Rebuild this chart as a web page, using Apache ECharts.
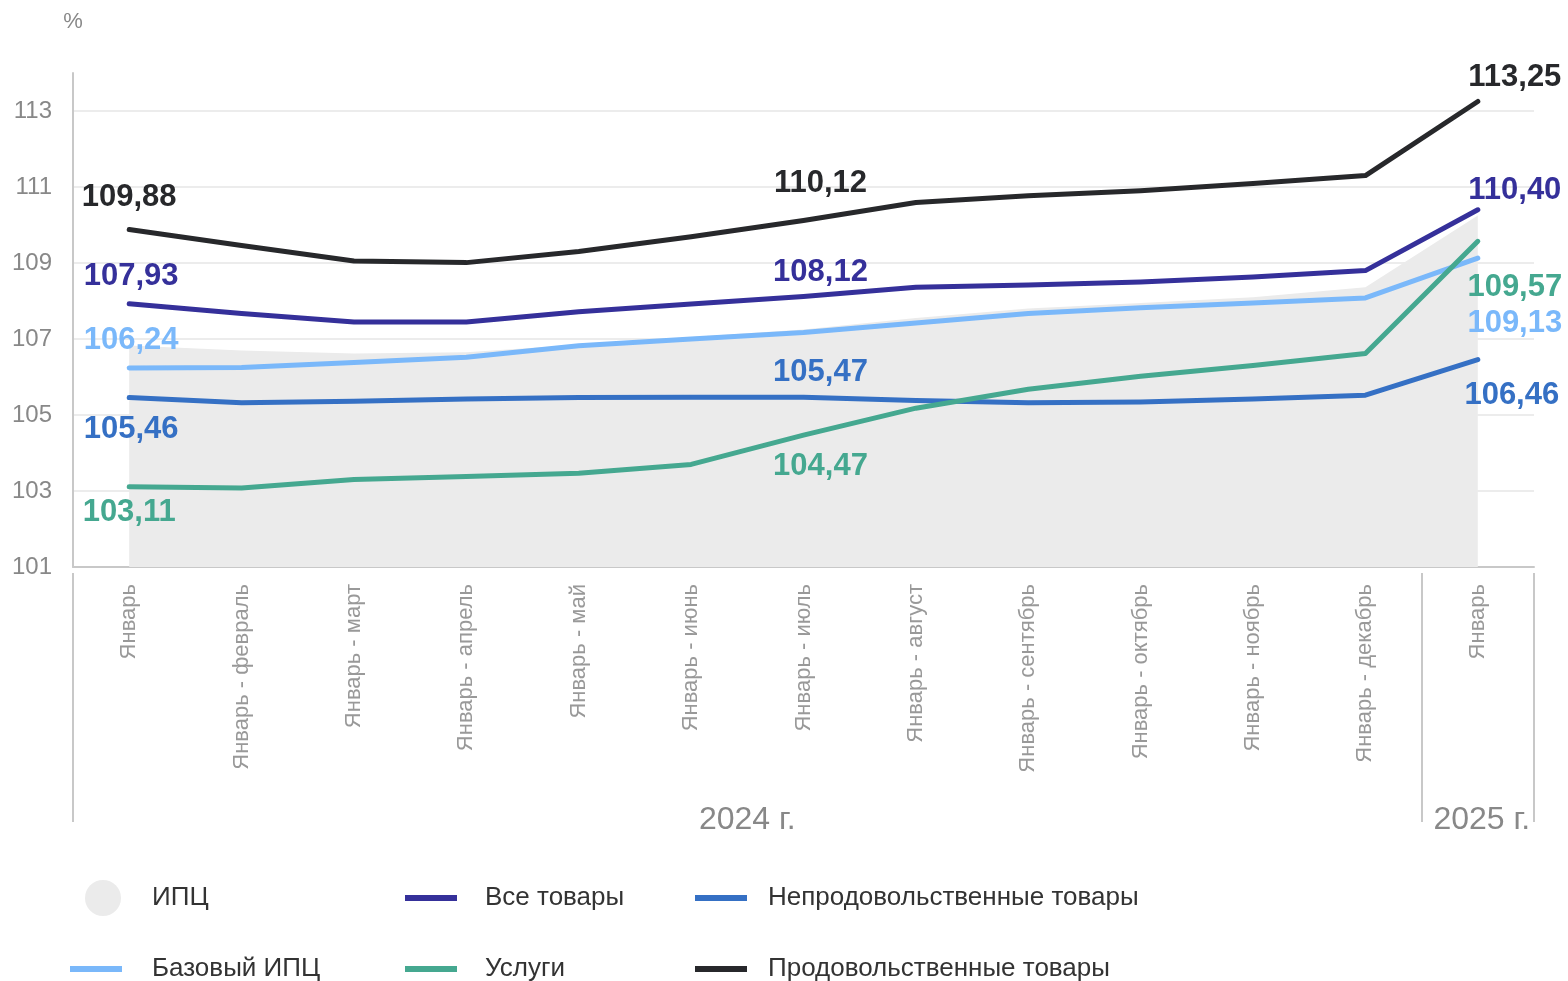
<!DOCTYPE html>
<html>
<head>
<meta charset="utf-8">
<script src="https://cdn.jsdelivr.net/npm/echarts@6/dist/echarts.min.js"></script>
<style>
  html, body { margin: 0; padding: 0; background: #fff; }
  #main { width: 1568px; height: 981px; }
</style>
</head>
<body>
<div id="main"></div>
<script>
var dom = document.getElementById('main');
var myChart = echarts.init(dom);

var categories = ['Январь', 'Январь - февраль', 'Январь - март', 'Январь - апрель', 'Январь - май',
    'Январь - июнь', 'Январь - июль', 'Январь - август', 'Январь - сентябрь', 'Январь - октябрь',
    'Январь - ноябрь', 'Январь - декабрь', 'Январь'];
var years = ['2024 г.', '2025 г.'];

var cpi      = [106.83, 106.70, 106.62, 106.65, 106.85, 107.05, 107.25, 107.55, 107.80, 107.95, 108.10, 108.36, 110.25];
var coreCpi  = [106.24, 106.25, 106.38, 106.52, 106.82, 107.00, 107.17, 107.42, 107.67, 107.82, 107.95, 108.08, 109.13];
var nonFood  = [105.46, 105.32, 105.36, 105.42, 105.46, 105.47, 105.47, 105.38, 105.32, 105.34, 105.42, 105.52, 106.46];
var services = [103.11, 103.08, 103.30, 103.38, 103.47, 103.70, 104.47, 105.18, 105.68, 106.02, 106.30, 106.62, 109.57];
var allGoods = [107.93, 107.67, 107.45, 107.45, 107.72, 107.92, 108.12, 108.36, 108.42, 108.50, 108.63, 108.80, 110.40];
var food     = [109.88, 109.46, 109.05, 109.01, 109.30, 109.69, 110.12, 110.59, 110.77, 110.90, 111.09, 111.30, 113.25];

// where the value labels sit, relative to the point (index: [dx, dy])
var labelPos = {
    core:     {0: [2, -27], 12: [37, 65]},
    nonFood:  {0: [2, 32], 6: [17, -25], 12: [34, 36]},
    services: {0: [0, 26], 6: [17, 31], 12: [37, 46]},
    allGoods: {0: [2, -27], 6: [17, -24], 12: [37, -19]},
    food:     {0: [0, -32], 6: [17, -37], 12: [37, -24]}
};

var FONT = '"Liberation Sans", Arial, sans-serif';

function fmt(v) {
    return v.toFixed(2).replace('.', ',');
}

function withLabels(values, pos, color) {
    return values.map(function (v, i) {
        if (!pos[i]) return v;
        return {
            value: v,
            label: {
                show: true,
                position: 'inside',
                offset: pos[i],
                formatter: function (p) { return fmt(p.value); },
                color: color,
                fontSize: 31,
                fontWeight: 'bold',
                fontFamily: FONT
            }
        };
    });
}

function lineSeries(name, values, color, pos) {
    return {
        name: name,
        type: 'line',
        data: withLabels(values, pos, color),
        showSymbol: true,
        symbol: 'circle',
        symbolSize: 1,
        itemStyle: {color: color},
        lineStyle: {color: color, width: 5, cap: 'round', join: 'round'},
        label: {show: false},
        silent: true,
        z: 3
    };
}

var lineIcon = 'path://M0,0H52V6H0Z';

var colors = {
    cpi: '#ebebeb',
    core: '#7ab8fa',
    nonFood: '#3570c4',
    services: '#45a890',
    allGoods: '#35309a',
    food: '#27282b'
};

var gridColors = ['#ececec', '#ececec', '#ececec', '#ececec', '#ececec', '#ececec', '#ececec', 'rgba(0,0,0,0)'];

function legendItem(name, icon, left, top, pad) {
    return {
        left: left, top: top, itemWidth: 52, itemHeight: 36,
        textStyle: {fontSize: 26, color: '#333', fontFamily: FONT, padding: [0, 0, 0, pad]},
        data: [{name: name, icon: icon}]
    };
}

option = {
    animation: false,
    grid: {left: 73, right: 34, top: 73, bottom: 414},
    xAxis: [{
        type: 'category',
        data: categories,
        boundaryGap: true,
        axisLine: {lineStyle: {color: '#c8c8c8', width: 2}},
        axisTick: {show: false},
        axisLabel: {rotate: 90, interval: 0, color: '#999', fontSize: 22, margin: 17, fontFamily: FONT},
        splitLine: {show: false}
    }, {
        type: 'category',
        data: categories,
        position: 'bottom',
        offset: 6,
        boundaryGap: true,
        axisLine: {show: false},
        axisLabel: {show: false},
        axisTick: {
            show: true,
            length: 249,
            interval: function (index) { return index === 0 || index === 12; },
            lineStyle: {color: '#c8c8c8', width: 2}
        },
        splitLine: {show: false}
    }],
    yAxis: {
        type: 'value',
        min: 101,
        max: 114,
        interval: 2,
        name: '%',
        nameLocation: 'end',
        nameGap: 40,
        nameTextStyle: {color: '#888', fontSize: 22, fontFamily: FONT},
        axisLine: {show: true, lineStyle: {color: '#c8c8c8', width: 2}},
        axisTick: {show: false},
        axisLabel: {color: '#888', fontSize: 24, margin: 21, showMaxLabel: false, fontFamily: FONT},
        splitLine: {lineStyle: {color: gridColors, width: 2}}
    },
    legend: [
        legendItem('ИПЦ', 'circle', 80, 875, 18),
        legendItem('Базовый ИПЦ', lineIcon, 65, 951, 25),
        legendItem('Все товары', lineIcon, 400, 880, 23),
        legendItem('Услуги', lineIcon, 400, 951, 23),
        legendItem('Непродовольственные товары', lineIcon, 690, 880, 16),
        legendItem('Продовольственные товары', lineIcon, 690, 951, 16)
    ],
    series: [
        {
            name: 'ИПЦ',
            type: 'line',
            data: cpi,
            symbol: 'none',
            itemStyle: {color: colors.cpi},
            lineStyle: {width: 0, opacity: 0},
            areaStyle: {color: colors.cpi, opacity: 1},
            silent: true,
            z: 1
        },
        lineSeries('Базовый ИПЦ', coreCpi, colors.core, labelPos.core),
        lineSeries('Непродовольственные товары', nonFood, colors.nonFood, labelPos.nonFood),
        lineSeries('Услуги', services, colors.services, labelPos.services),
        lineSeries('Все товары', allGoods, colors.allGoods, labelPos.allGoods),
        lineSeries('Продовольственные товары', food, colors.food, labelPos.food)
    ]
};

if (option && typeof option === "object") {
    myChart.setOption(option, true);
}

// year captions under the category groups
var x0 = myChart.convertToPixel({xAxisIndex: 0}, 0);
var x11 = myChart.convertToPixel({xAxisIndex: 0}, 11);
var x12 = myChart.convertToPixel({xAxisIndex: 0}, 12);
myChart.setOption({
    graphic: [{
        type: 'text', x: (x0 + x11) / 2, y: 820,
        style: {text: years[0], fill: '#888', fontSize: 32, fontFamily: FONT, align: 'center', verticalAlign: 'middle'}
    }, {
        type: 'text', x: x12 + 4, y: 820,
        style: {text: years[1], fill: '#888', fontSize: 32, fontFamily: FONT, align: 'center', verticalAlign: 'middle'}
    }]
});
</script>
</body>
</html>
